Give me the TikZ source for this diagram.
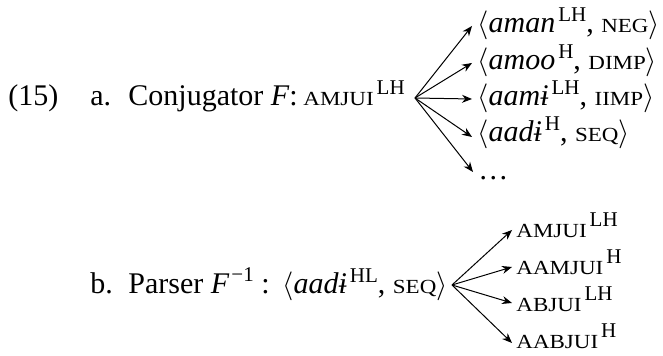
\documentclass[tikz,border=0pt]{standalone}
\usepackage{fontspec}
\setmainfont{Liberation Serif}
\newfontfamily\scfont[FakeStretch=1.15]{Liberation Serif}
\usetikzlibrary{arrows.meta}
\newcommand\sC[1]{{\scfont\fontsize{10}{11}\selectfont #1}}
\newcommand\tn[1]{\kern1.5pt\raisebox{5.5pt}{\fontsize{10.5}{11}\selectfont #1}}
\tikzset{
  txt/.style={anchor=base west, inner sep=0pt, font=\fontsize{15}{18}\selectfont},
  arr/.style={-{Stealth[length=5pt,width=4pt]}, line width=0.5pt}
}
\begin{document}
\begin{tikzpicture}[x=0.5pt,y=-0.5pt]
\useasboundingbox (0,0) rectangle (663,356);
% part a
\node[txt] (ex) at (8,106) {(15)};
\node[txt] (la) at (90,106) {a.};
\node[txt] (conj) at (128,106) {Conjugator \textit{F}:};
\node[txt] (src) at (303,106) {\sC{AMJUI}\tn{LH}};
\coordinate (oa) at (415,98);
\node[txt] (t1) at (477,33) {$\langle$\textit{aman\/}\tn{LH}, \sC{NEG}$\rangle$};
\node[txt] (t2) at (477,70) {$\langle$\textit{amoo\/}\tn{H}, \sC{DIMP}$\rangle$};
\node[txt] (t3) at (477,106) {$\langle$\textit{aamɨ\/}\tn{LH}, \sC{IIMP}$\rangle$};
\node[txt] (t4) at (477,142) {$\langle$\textit{aadɨ\/}\tn{H}, \sC{SEQ}$\rangle$};
\node[txt] (t5) at (478,180) {\ldots};
\foreach \t/\dy in {t1/-7,t2/-7,t3/-7,t4/-5,t5/-8}
  \draw[arr] (oa) -- ([shift={(-5,\dy)}]\t.base west);
% part b
\node[txt] (lb) at (90,294) {b.};
\node[txt] (pars) at (128,294) {Parser \textit{F}\kern1pt\raisebox{6pt}{\fontsize{10.5}{11}\selectfont −1} :};
\node[txt] (inp) at (282,294) {$\langle$\textit{aadɨ\/}\tn{HL}, \sC{SEQ}$\rangle$};
\coordinate (ob) at (452,285);
\node[txt] (u1) at (516,238) {\sC{AMJUI}\tn{LH}};
\node[txt] (u2) at (516,275) {\sC{AAMJUI}\tn{H}};
\node[txt] (u3) at (516,312) {\sC{ABJUI}\tn{LH}};
\node[txt] (u4) at (516,349) {\sC{AABJUI}\tn{H}};
\foreach \t/\dy in {u1/-8,u2/-8,u3/-9,u4/-6}
  \draw[arr] (ob) -- ([shift={(-4,\dy)}]\t.base west);
\end{tikzpicture}
\end{document}
